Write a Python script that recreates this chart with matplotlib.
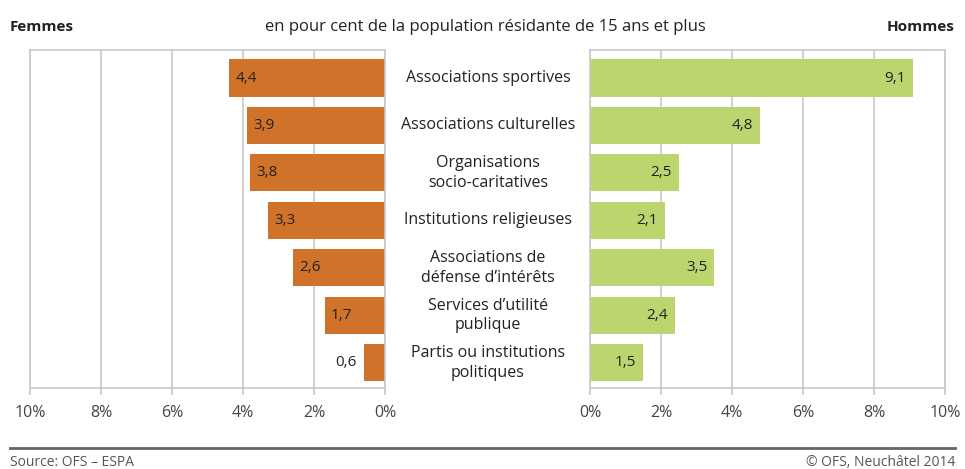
import matplotlib
matplotlib.use("Agg")
import matplotlib.pyplot as plt

plt.rcParams['font.family'] = ['Open Sans', 'DejaVu Sans']

categories = ["Associations sportives", "Associations culturelles",
              "Organisations\nsocio-caritatives", "Institutions religieuses",
              "Associations de\ndéfense d’intérêts", "Services d’utilité\npublique",
              "Partis ou institutions\npolitiques"]
femmes = [4.4, 3.9, 3.8, 3.3, 2.6, 1.7, 0.6]
hommes = [9.1, 4.8, 2.5, 2.1, 3.5, 2.4, 1.5]
ticks = [0, 2, 4, 6, 8, 10]
tick_labels = ["0%", "2%", "4%", "6%", "8%", "10%"]

orange = "#d0722a"
green = "#bdd56e"
grid = "#c8c8c8"
txt = "#222222"

fig = plt.figure(figsize=(9.65, 4.69), dpi=100)
axL = fig.add_axes([30/965, 1-388/469, 355/965, 338/469])
axR = fig.add_axes([590/965, 1-388/469, 355/965, 338/469])

ypos = list(range(len(categories)))

for ax in (axL, axR):
    ax.set_xlim(0, 10)
    ax.set_ylim(6.53, -0.59)
    ax.set_xticks(ticks)
    ax.set_xticklabels(tick_labels)
    ax.set_yticks([])
    ax.grid(axis="x", color=grid, linewidth=1.2)
    ax.set_axisbelow(True)
    for s in ax.spines.values():
        s.set_color(grid)
        s.set_linewidth(1.2)
    ax.tick_params(axis="x", direction="out", length=5, width=1.2, color=grid,
                   labelsize=11.5, labelcolor="#444444", pad=7)
axL.invert_xaxis()

axL.barh(ypos, femmes, height=0.78, color=orange)
axR.barh(ypos, hommes, height=0.78, color=green)

for y, v in zip(ypos, femmes):
    lab = str(v).replace(".", ",")
    if v < 1:
        axL.text(v + 0.2, y, lab, ha="right", va="center", fontsize=11, color=txt)
    else:
        axL.text(v - 0.18, y, lab, ha="left", va="center", fontsize=11, color=txt)

for y, v in zip(ypos, hommes):
    lab = str(v).replace(".", ",")
    axR.text(v - 0.2, y, lab, ha="right", va="center", fontsize=11, color=txt)

# category labels between the two panels
for y, c in zip(ypos, categories):
    yf = axL.transData.transform((0, y))[1]
    yf = fig.transFigure.inverted().transform((0, yf))[1]
    fig.text(488/965, yf, c, ha="center", va="center", fontsize=11.5,
             color=txt, linespacing=1.3)

fig.text(10/965, 1-27/469, "Femmes", ha="left", va="center", fontsize=11,
         fontweight="bold", color=txt)
fig.text(955/965, 1-27/469, "Hommes", ha="right", va="center", fontsize=11,
         fontweight="bold", color=txt)
fig.text(485/965, 1-27/469, "en pour cent de la population résidante de 15 ans et plus",
         ha="center", va="center", fontsize=12, color=txt)

fig.add_artist(plt.Line2D([10/965, 955/965], [1-448/469, 1-448/469],
                          transform=fig.transFigure, color="#666666", linewidth=2))
fig.text(10/965, 1-462/469, "Source: OFS – ESPA", ha="left", va="center",
         fontsize=10, color="#555555")
fig.text(955/965, 1-462/469, "© OFS, Neuchâtel 2014", ha="right", va="center",
         fontsize=10, color="#555555")

fig.savefig("out.png", dpi=100)
